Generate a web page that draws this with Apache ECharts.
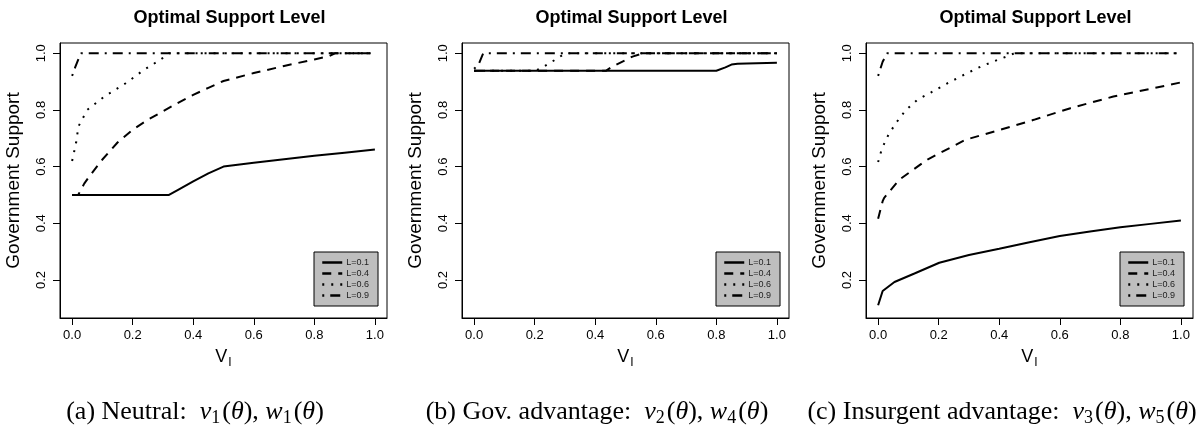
<!DOCTYPE html>
<html>
<head>
<meta charset="utf-8">
<script src="https://cdn.jsdelivr.net/npm/echarts@6/dist/echarts.min.js"></script>
<style>
html,body{margin:0;padding:0;background:#fff;}
#chart{width:1198px;height:433px;}
</style>
</head>
<body>
<div id="chart"></div>
<script>
// ---------- data ----------
const seriesNames = ['L=0.1', 'L=0.4', 'L=0.6', 'L=0.9'];
const xTicks = [0, 0.2, 0.4, 0.6, 0.8, 1.0];
const yTicks = [0.2, 0.4, 0.6, 0.8, 1.0];
const panelTitle = 'Optimal Support Level';
const yTitle = 'Government Support';

// Panel (a) Neutral
const a_x1 = [0, 0.1, 0.2, 0.3, 0.32, 0.35, 0.4, 0.45, 0.5, 0.6, 0.7, 0.8, 0.9, 1.0];
const a_y1 = [0.5, 0.5, 0.5, 0.5, 0.5, 0.518, 0.548, 0.576, 0.6, 0.614, 0.626, 0.638, 0.649, 0.66];
const a_x2 = [0, 0.02, 0.04, 0.06, 0.1, 0.15, 0.2, 0.25, 0.3, 0.35, 0.4, 0.45, 0.5, 0.6, 0.7, 0.8, 0.85, 0.87, 0.9, 1.0];
const a_y2 = [0.5, 0.5, 0.54, 0.57, 0.625, 0.685, 0.73, 0.765, 0.795, 0.825, 0.853, 0.878, 0.902, 0.93, 0.955, 0.978, 0.99, 1.0, 1.0, 1.0];
const a_x3 = [0, 0.013, 0.021, 0.05, 0.106, 0.177, 0.237, 0.281, 0.309, 0.32, 0.5, 1.0];
const a_y3 = [0.62, 0.683, 0.742, 0.8, 0.847, 0.894, 0.941, 0.97, 0.99, 1.0, 1.0, 1.0];
const a_x4 = [0, 0.01, 0.024, 0.03, 0.5, 1.0];
const a_y4 = [0.92, 0.95, 0.988, 1.0, 1.0, 1.0];

// Panel (b) Gov. advantage
const b_x1 = [0, 0.2, 0.4, 0.6, 0.8, 0.83, 0.85, 0.87, 0.9, 1.0];
const b_y1 = [0.938, 0.938, 0.938, 0.938, 0.938, 0.95, 0.96, 0.963, 0.964, 0.966];
const b_x2 = [0, 0.2, 0.435, 0.457, 0.501, 0.523, 0.56, 0.8, 1.0];
const b_y2 = [0.938, 0.938, 0.938, 0.953, 0.976, 0.988, 1.0, 1.0, 1.0];
const b_x3 = [0, 0.1, 0.2, 0.222, 0.249, 0.276, 0.3, 0.6, 1.0];
const b_y3 = [0.938, 0.938, 0.938, 0.947, 0.965, 0.982, 1.0, 1.0, 1.0];
const b_x4 = [0, 0.015, 0.03, 0.5, 1.0];
const b_y4 = [0.945, 0.961, 1.0, 1.0, 1.0];

// Panel (c) Insurgent advantage
const c_x1 = [0, 0.015, 0.054, 0.12, 0.202, 0.3, 0.4, 0.5, 0.6, 0.7, 0.8, 0.9, 1.0];
const c_y1 = [0.111, 0.161, 0.193, 0.223, 0.261, 0.288, 0.31, 0.333, 0.355, 0.371, 0.386, 0.398, 0.41];
const c_x2 = [0, 0.015, 0.02, 0.07, 0.163, 0.289, 0.404, 0.514, 0.635, 0.777, 1.0];
const c_y2 = [0.416, 0.478, 0.49, 0.554, 0.625, 0.695, 0.73, 0.765, 0.806, 0.847, 0.897];
const c_x3 = [0, 0.01, 0.021, 0.034, 0.059, 0.092, 0.13, 0.174, 0.229, 0.284, 0.339, 0.394, 0.438, 0.45, 0.7, 1.0];
const c_y3 = [0.616, 0.654, 0.683, 0.712, 0.754, 0.8, 0.836, 0.861, 0.894, 0.924, 0.953, 0.976, 0.994, 1.0, 1.0, 1.0];
const c_x4 = [0, 0.015, 0.03, 0.5, 1.0];
const c_y4 = [0.92, 0.97, 1.0, 1.0, 1.0];

const panels = [
  { xs: [a_x1, a_x2, a_x3, a_x4], ys: [a_y1, a_y2, a_y3, a_y4] },
  { xs: [b_x1, b_x2, b_x3, b_x4], ys: [b_y1, b_y2, b_y3, b_y4] },
  { xs: [c_x1, c_x2, c_x3, c_x4], ys: [c_y1, c_y2, c_y3, c_y4] }
];

// ---------- layout / style ----------
const gridLefts = [60, 462, 866];
const gridWidth = 327;
const gridTop = 43;
const gridHeight = 275;
const dashTypes = ['solid', [9, 7], [2, 7], [2, 6, 10, 6]];
const sansFont = '"Liberation Sans", Arial, Helvetica, sans-serif';
const serifFont = '"Liberation Serif", "Times New Roman", serif';

const grids = [], xAxes = [], yAxes = [], series = [], legends = [], titles = [];

panels.forEach((p, i) => {
  grids.push({
    left: gridLefts[i], top: gridTop, width: gridWidth, height: gridHeight,
    show: true, borderColor: '#000', borderWidth: 1, backgroundColor: 'transparent',
    containLabel: false
  });
  xAxes.push({
    type: 'value', gridIndex: i, min: -0.04, max: 1.04, position: 'bottom',
    splitLine: { show: false },
    axisLine: { show: true, onZero: false, lineStyle: { color: '#000', width: 1 } },
    axisTick: { show: true, length: 7, lineStyle: { color: '#000', width: 1 }, customValues: xTicks },
    axisLabel: {
      show: true, customValues: xTicks, margin: 11, color: '#000', fontSize: 13, fontFamily: sansFont,
      formatter: v => v.toFixed(1)
    },
    name: '{v|V}{s|I}', nameLocation: 'middle', nameGap: 27,
    nameTextStyle: {
      rich: {
        v: { fontSize: 18, fontFamily: sansFont, color: '#000' },
        s: { fontSize: 12, fontFamily: sansFont, color: '#000', padding: [12, 0, 0, 1] }
      }
    }
  });
  yAxes.push({
    type: 'value', gridIndex: i, min: 0.066, max: 1.036, position: 'left',
    splitLine: { show: false },
    axisLine: { show: true, onZero: false, lineStyle: { color: '#000', width: 1 } },
    axisTick: { show: true, inside: false, length: 7, lineStyle: { color: '#000', width: 1 }, customValues: yTicks },
    axisLabel: {
      show: true, customValues: yTicks, rotate: 90, margin: 12, color: '#000', fontSize: 13, fontFamily: sansFont,
      formatter: v => v.toFixed(1)
    },
    name: yTitle, nameLocation: 'middle', nameRotate: 90, nameGap: 37,
    nameTextStyle: { fontSize: 19, fontFamily: sansFont, color: '#000' }
  });
  p.xs.forEach((xs, k) => {
    series.push({
      name: seriesNames[k], type: 'line', xAxisIndex: i, yAxisIndex: i,
      data: xs.map((x, j) => [x, p.ys[k][j]]),
      symbol: 'none', showSymbol: false, smooth: false, silent: true,
      lineStyle: { color: '#000', width: 2, type: dashTypes[k], cap: 'butt' },
      itemStyle: { color: '#000' },
      z: 2 + k
    });
  });
  legends.push({
    data: seriesNames, orient: 'vertical',
    left: gridLefts[i] + gridWidth - 73, top: 252,
    padding: [6, 9, 6, 7], itemGap: 2, itemWidth: 20, itemHeight: 10,
    backgroundColor: '#bebebe', borderColor: '#000', borderWidth: 1, borderRadius: 0,
    selectedMode: false,
    itemStyle: { opacity: 0 },
    lineStyle: { opacity: 1, width: 2.5 },
    textStyle: { fontSize: 9, fontFamily: sansFont, color: '#222', padding: [0, 0, 0, -1] }
  });
  titles.push({
    text: panelTitle, left: gridLefts[i] + gridWidth / 2 + 1, top: 4, textAlign: 'center',
    textStyle: { fontSize: 18, fontWeight: 'bold', fontFamily: sansFont, color: '#000' }
  });
});

const captionRich = {
  n: { fontSize: 26, fontFamily: serifFont, fontWeight: 'normal', color: '#000' },
  i: { fontSize: 26, fontFamily: serifFont, fontWeight: 'normal', fontStyle: 'italic', color: '#000' },
  s: { fontSize: 18, fontFamily: serifFont, fontWeight: 'normal', color: '#000', padding: [11, 2, 0, 0] }
};
const captions = [
  { text: '{n|(a) Neutral:  }{i|v}{s|1}{n|(}{i|θ}{n|), }{i|w}{s|1}{n|(}{i|θ}{n|)}', cx: 190 },
  { text: '{n|(b) Gov. advantage:  }{i|v}{s|2}{n|(}{i|θ}{n|), }{i|w}{s|4}{n|(}{i|θ}{n|)}', cx: 592 },
  { text: '{n|(c) Insurgent advantage:  }{i|v}{s|3}{n|(}{i|θ}{n|), }{i|w}{s|5}{n|(}{i|θ}{n|)}', cx: 997 }
];
captions.forEach(c => {
  titles.push({
    text: c.text, left: c.cx, top: 393, textAlign: 'center',
    textStyle: { fontWeight: 'normal', rich: captionRich }
  });
});

const chart = echarts.init(document.getElementById('chart'), null, { renderer: 'canvas' });
chart.setOption({
  animation: false,
  backgroundColor: '#fff',
  title: titles,
  legend: legends,
  grid: grids,
  xAxis: xAxes,
  yAxis: yAxes,
  series: series
});
</script>
</body>
</html>
